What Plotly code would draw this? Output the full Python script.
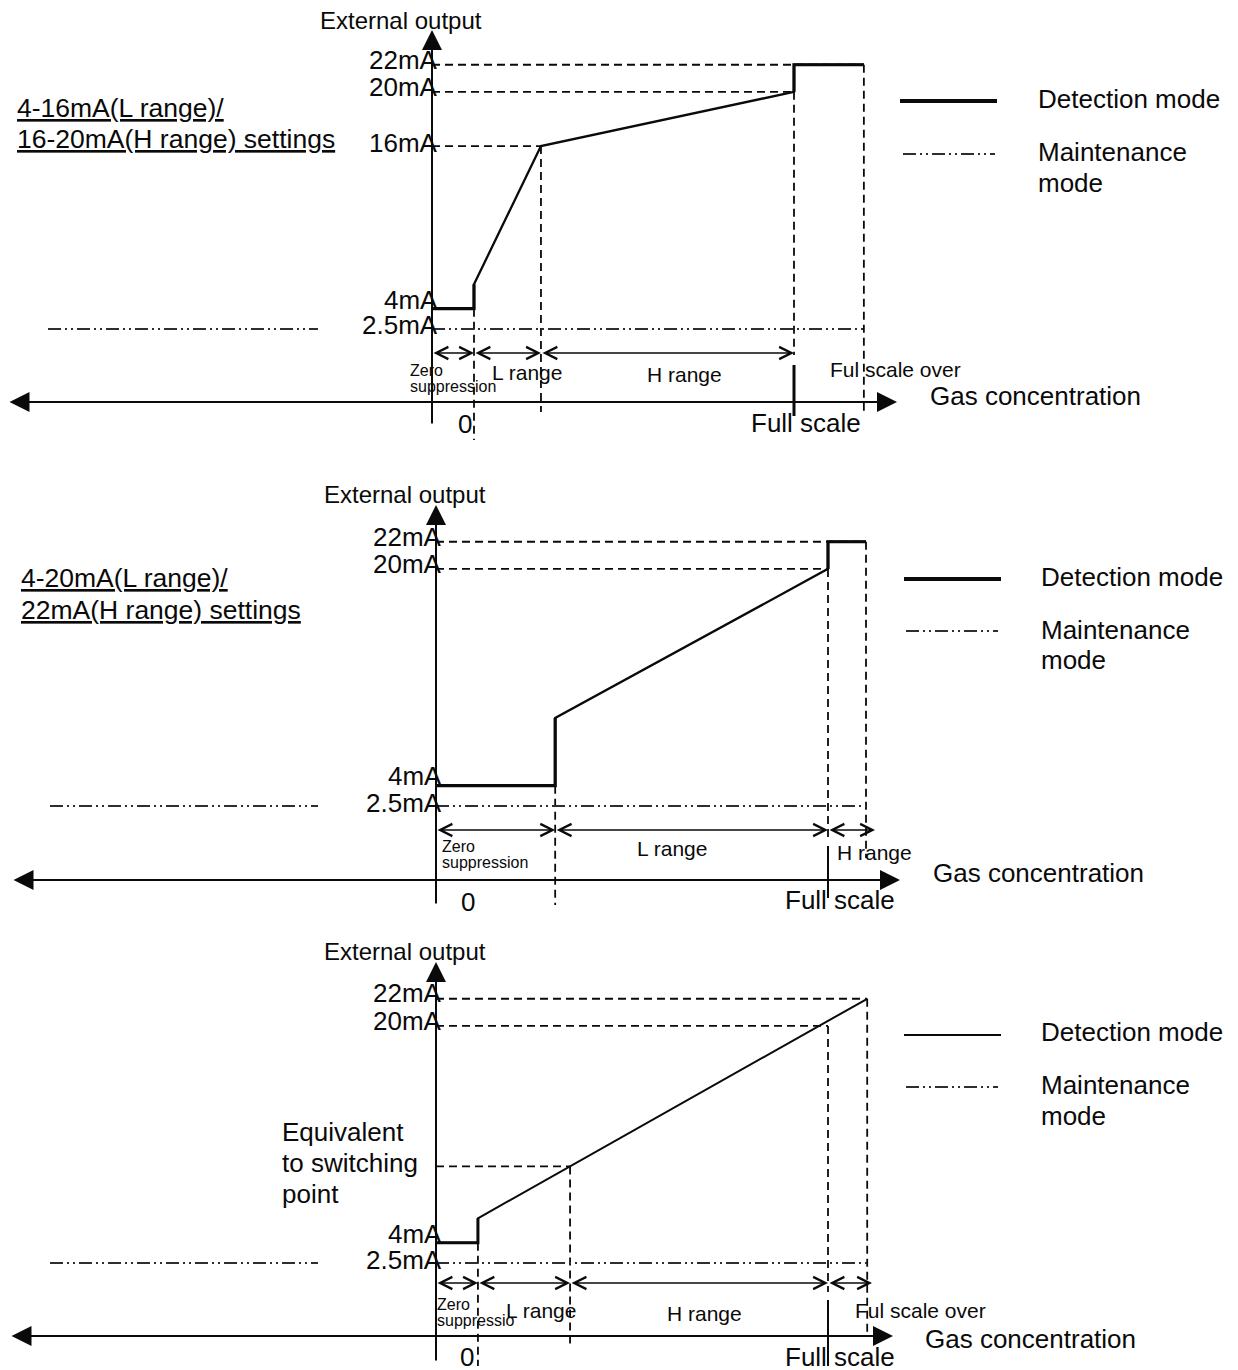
import plotly.graph_objects as go

W, H = 1238, 1370
OFF = 8              # the page puts the figure 8px in from the top-left corner
FONT = "Liberation Sans, Arial, sans-serif"
INK = "#0a0a0a"
GREY = "#2e2e2e"
K = 13.55            # pixels per mA in every sketch
MAINT = 2.5          # maintenance mode output (mA)
DASH = "8px,5px"
DASHDOT = "13px,4px,2px,4px,2px,4px"

# ---- data ----
# 4-16mA(L range)/16-20mA(H range) settings
s1_levels = [22, 20, 16, 4, 2.5]
s1_labels = ["22mA", "20mA", "16mA", "4mA", "2.5mA"]
s1_conc = [0, 11.6, 11.6, 30.1, 100, 100, 119.3]   # gas concentration, % of full scale
s1_out = [4, 4, 5.8, 16, 20, 22, 22]               # external output, mA
s1_zero, s1_switch, s1_full, s1_over = 11.6, 30.1, 100, 119.3

# 4-20mA(L range)/22mA(H range) settings
s2_levels = [22, 20, 4, 2.5]
s2_labels = ["22mA", "20mA", "4mA", "2.5mA"]
s2_conc = [0, 30.4, 30.4, 100, 100, 109.7]
s2_out = [4, 4, 9.0, 20, 22, 22]
s2_zero, s2_full, s2_over = 30.4, 100, 109.7

# 4-20mA(H range) settings
s3_levels = [22, 20, 4, 2.5]
s3_labels = ["22mA", "20mA", "4mA", "2.5mA"]
s3_conc = [0, 10.7, 10.7, 110]
s3_out = [4, 4, 5.8, 22]
s3_zero, s3_switch, s3_full, s3_over = 10.7, 34.2, 100, 110
s3_switch_out = 9.63

fig = go.Figure()
shapes, annos = [], []


def setup(n, x0, sx, base, top, bot):
    sfx = "" if n == 1 else str(n)
    xr, yr = "x" + sfx, "y" + sfx
    fig.update_layout(**{
        "xaxis" + sfx: dict(range=[-(x0 - OFF) / sx, (W - x0 + OFF) / sx], domain=[0, 1],
                            anchor=yr, visible=False, fixedrange=True),
        "yaxis" + sfx: dict(range=[MAINT - (bot - base) / K, MAINT + (base - top) / K],
                            domain=[1 - (bot - OFF) / H, 1 - (top - OFF) / H], anchor=xr,
                            visible=False, fixedrange=True),
    })
    cx = lambda px: (px - x0) / sx
    my = lambda py: MAINT + (base - py) / K
    return (xr, yr), cx, my


def seg(ax, x0, y0, x1, y1, width=1.8, dash=DASH, color=INK):
    shapes.append(dict(type="line", xref=ax[0], yref=ax[1], x0=x0, y0=y0, x1=x1, y1=y1,
                       line=dict(color=color, width=width, dash=dash)))


def arrow(ax, xa, ya, xb, yb, head=5, size=1.6, width=1.5, both=True):
    annos.append(dict(xref=ax[0], yref=ax[1], axref=ax[0], ayref=ax[1],
                      x=xb, y=yb, ax=xa, ay=ya, text="", showarrow=True,
                      arrowhead=head, startarrowhead=head, arrowsize=size,
                      startarrowsize=size, arrowwidth=width, arrowcolor=INK,
                      arrowside="end+start" if both else "end",
                      standoff=0, startstandoff=0))


def label(ax, x, y, s, size=26, anchor="center", xshift=0, yshift=0):
    annos.append(dict(xref=ax[0], yref=ax[1], x=x, y=y, text=s, showarrow=False,
                      xanchor=anchor, yanchor="middle", xshift=xshift, yshift=yshift,
                      font=dict(family=FONT, size=size, color=INK)))


def curve(ax, conc, out, thick, width=2.3, thick_w=3.2):
    fig.add_trace(go.Scatter(x=conc, y=out, mode="lines", xaxis=ax[0], yaxis=ax[1],
                             line=dict(color=INK, width=width), hoverinfo="skip"))
    for a, b in thick:
        fig.add_trace(go.Scatter(x=conc[a:b + 1], y=out[a:b + 1], mode="lines",
                                 xaxis=ax[0], yaxis=ax[1],
                                 line=dict(color=INK, width=thick_w), hoverinfo="skip"))


def under(s):
    return "<span style='text-decoration:underline'>" + s + "</span>"


def common(ax, cx, my, levels, labels, lift, over, y_axis, x_axis, maint_left, legend):
    for lv, lb, up in zip(levels, labels, lift):
        label(ax, 0, lv, lb, anchor="right", xshift=8, yshift=up)
    seg(ax, cx(maint_left[0]), MAINT, cx(maint_left[1]), MAINT, width=1.8, dash=DASHDOT, color=GREY)
    seg(ax, 0, MAINT, over, MAINT, width=1.8, dash=DASHDOT, color=GREY)
    arrow(ax, 0, my(y_axis[0]), 0, my(y_axis[1]), head=2, size=2.0, width=2, both=False)
    arrow(ax, cx(x_axis[1]), my(x_axis[0]), cx(x_axis[2]), my(x_axis[0]), head=2, size=2.0, width=2)
    label(ax, 0, my(y_axis[1]), "External output", size=24, yshift=10, xshift=-31)
    ys, yd, sw, xs, xd, tx, ty = legend
    seg(ax, cx(xs[0]), my(ys), cx(xs[1]), my(ys), width=sw, dash="solid")
    seg(ax, cx(xd[0]), my(yd), cx(xd[1]), my(yd), width=1.8, dash=DASHDOT, color=GREY)
    for t, y in zip(["Detection mode", "Maintenance", "mode"], ty):
        label(ax, cx(tx), my(y), t, anchor="left")


# ---- sketch 1 ----
ax, cx, my = setup(1, 432, 3.62, 329, 8, 460)
curve(ax, s1_conc, s1_out, [(0, 2), (4, 6)])
seg(ax, 0, 22, s1_over, 22)
seg(ax, 0, 20, s1_full, 20)
seg(ax, 0, 16, s1_switch, 16)
seg(ax, s1_switch, 16, s1_switch, my(412))
seg(ax, s1_full, 20, s1_full, my(355))
seg(ax, s1_over, 22, s1_over, my(414))
seg(ax, s1_zero, 4, s1_zero, my(440))
seg(ax, s1_full, my(365), s1_full, my(416), width=3, dash="solid")
common(ax, cx, my, s1_levels, s1_labels, [5, 5, 3, 9, 4], s1_over, (425, 30), (402, 8, 897),
       (48, 318), (101, 154, 4, (900, 997), (903, 995), 1036, (99, 152, 183)))
for a, b in [(0, s1_zero), (s1_zero, s1_switch), (s1_switch, s1_full)]:
    arrow(ax, a, my(353), b, my(353))
label(ax, cx(408), my(370), "Zero", size=16, anchor="left")
label(ax, cx(408), my(386), "suppression", size=16, anchor="left")
label(ax, cx(527), my(372), "L range", size=21)
label(ax, cx(684), my(374), "H range", size=21)
label(ax, cx(895), my(369), "Ful scale over", size=21)
label(ax, cx(928), my(396), "Gas concentration", anchor="left")
label(ax, cx(806), my(423), "Full scale")
label(ax, cx(465), my(424), "0")
label(ax, cx(15), my(108), under("4-16mA(L range)/"), size=26.5, anchor="left")
label(ax, cx(15), my(139), under("16-20mA(H range) settings"), size=26.5, anchor="left")

# ---- sketch 2 ----
ax, cx, my = setup(2, 436, 3.92, 806, 460, 925)
curve(ax, s2_conc, s2_out, [(0, 2), (3, 5)])
seg(ax, 0, 22, s2_over, 22)
seg(ax, 0, 20, s2_full, 20)
seg(ax, s2_full, 20, s2_full, my(838))
seg(ax, s2_over, 22, s2_over, my(858))
seg(ax, s2_zero, 4, s2_zero, my(905))
seg(ax, s2_full, my(846), s2_full, my(898), width=2, dash="solid")
common(ax, cx, my, s2_levels, s2_labels, [5, 5, 10, 3], s2_over, (905, 505), (880, 12, 900),
       (50, 318), (579, 631, 4, (904, 1001), (906, 998), 1039, (577, 630, 660)))
for a, b in [(0, s2_zero), (s2_zero, s2_full), (s2_full, cx(875))]:
    arrow(ax, a, my(830), b, my(830))
label(ax, cx(440), my(846), "Zero", size=16, anchor="left")
label(ax, cx(440), my(862), "suppression", size=16, anchor="left")
label(ax, cx(672), my(848), "L range", size=21)
label(ax, cx(835), my(852), "H range", size=21, anchor="left")
label(ax, cx(931), my(873), "Gas concentration", anchor="left")
label(ax, cx(840), my(900), "Full scale")
label(ax, cx(468), my(902), "0")
label(ax, cx(19), my(578), under("4-20mA(L range)/"), size=26.5, anchor="left")
label(ax, cx(19), my(610), under("22mA(H range) settings"), size=26.5, anchor="left")

# ---- sketch 3 ----
ax, cx, my = setup(3, 436, 3.92, 1263, 925, 1378)
curve(ax, s3_conc, s3_out, [(0, 2)], width=2, thick_w=3)
seg(ax, 0, 22, s3_over, 22)
seg(ax, 0, 20, s3_full, 20)
seg(ax, 0, s3_switch_out, s3_switch, s3_switch_out)
seg(ax, s3_switch, s3_switch_out, s3_switch, my(1345))
seg(ax, s3_full, 20, s3_full, my(1292))
seg(ax, s3_over, 22, s3_over, my(1335))
seg(ax, s3_zero, 4, s3_zero, my(1366))
seg(ax, s3_full, my(1300), s3_full, my(1366), width=2, dash="solid")
common(ax, cx, my, s3_levels, s3_labels, [6, 5, 9, 3], s3_over, (1362, 962), (1336, 10, 893),
       (50, 318), (1035, 1087, 2, (904, 1001), (906, 998), 1039, (1032, 1085, 1116)))
for a, b in [(0, s3_zero), (s3_zero, s3_switch), (s3_switch, s3_full), (s3_full, cx(872))]:
    arrow(ax, a, my(1283), b, my(1283))
label(ax, cx(435), my(1304), "Zero", size=16, anchor="left")
label(ax, cx(435), my(1320), "suppressio", size=16, anchor="left")
label(ax, cx(541), my(1310), "L range", size=21)
label(ax, cx(704), my(1313), "H range", size=21)
label(ax, cx(853), my(1310), "Ful scale over", size=21, anchor="left")
label(ax, cx(923), my(1339), "Gas concentration", anchor="left")
label(ax, cx(840), my(1357), "Full scale")
label(ax, cx(467), my(1357), "0")
label(ax, cx(280), my(1132), "Equivalent", anchor="left")
label(ax, cx(280), my(1163), "to switching", anchor="left")
label(ax, cx(280), my(1194), "point", anchor="left")
label(ax, cx(-3), my(1012), under("4-20mA(H range) settings"), size=26.5, anchor="left")

fig.update_layout(width=W, height=H, margin=dict(l=0, r=0, t=0, b=0),
                  paper_bgcolor="white", plot_bgcolor="white", showlegend=False,
                  shapes=shapes, annotations=annos)
fig.write_html("out.html")
